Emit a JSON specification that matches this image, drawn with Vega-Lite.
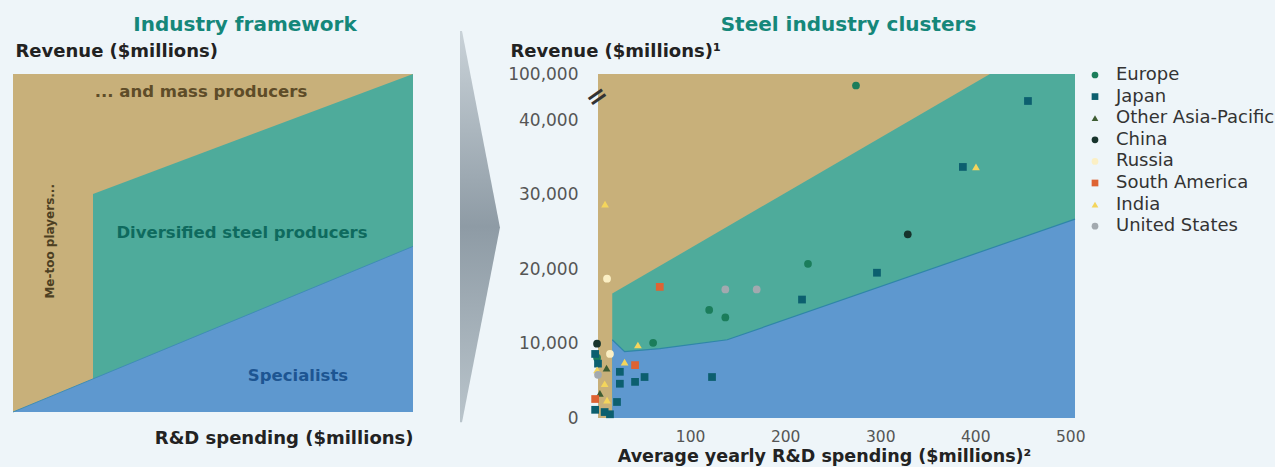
{
  "$schema": "https://vega.github.io/schema/vega-lite/v6.json",
  "background": "#eef5f9",
  "padding": {"left": 11, "top": 15, "right": 0, "bottom": 2},
  "bounds": "flush",
  "spacing": 0,
  "config": {"font": "DejaVu Sans", "view": {"stroke": null}},
  "hconcat": [
    {
      "width": 400,
      "height": 338,
      "title": {"text": "Industry framework", "anchor": "middle", "frame": "group", "dx": 32, "offset": 7, "fontSize": 20, "fontWeight": "bold", "color": "#15877a", "font": "DejaVu Sans"},
      "view": {"fill": "#c8b07a", "stroke": null},
      "layer": [
        {
          "data": {"values": [{"x": 20, "y": 64.5}, {"x": 100, "y": 100}]},
          "mark": {"type": "area", "color": "#4eab9b", "opacity": 1},
          "encoding": {
            "x": {"field": "x", "type": "quantitative", "scale": {"domain": [0, 100], "nice": false, "zero": false},
              "axis": {"title": "R&D spending ($millions)", "titleAnchor": "end", "labels": false, "ticks": false, "domain": false, "grid": false, "titleFontSize": 18, "titleFont": "DejaVu Sans", "titleFontWeight": "bold", "titleColor": "#222", "titlePadding": 17}},
            "y": {"field": "y", "type": "quantitative", "scale": {"domain": [0, 100], "nice": false, "zero": false},
              "axis": {"title": "Revenue ($millions)", "titleAngle": 0, "titleAlign": "left", "titleBaseline": "middle", "titleX": 2, "titleY": -23, "labels": false, "ticks": false, "domain": false, "grid": false, "titleFontSize": 18, "titleFont": "DejaVu Sans", "titleFontWeight": "bold", "titleColor": "#222"}}
          }
        },
        {
          "data": {"values": [{"x": 0, "y": 0}, {"x": 100, "y": 49}]},
          "mark": {"type": "area", "color": "#5e98cf", "opacity": 1, "line": {"color": "#3f8db5", "strokeWidth": 1}},
          "encoding": {"x": {"field": "x", "type": "quantitative"}, "y": {"field": "y", "type": "quantitative"}}
        },
        {
          "data": {"values": [{"x": 47, "y": 94.7, "t": "... and mass producers"}]},
          "mark": {"type": "text", "fontSize": 16.5, "color": "#5e4c28", "fontWeight": "bold"},
          "encoding": {"x": {"field": "x", "type": "quantitative"}, "y": {"field": "y", "type": "quantitative"}, "text": {"field": "t"}}
        },
        {
          "data": {"values": [{"x": 57.25, "y": 53, "t": "Diversified steel producers"}]},
          "mark": {"type": "text", "fontSize": 16.5, "color": "#0e6a5e", "fontWeight": "bold"},
          "encoding": {"x": {"field": "x", "type": "quantitative"}, "y": {"field": "y", "type": "quantitative"}, "text": {"field": "t"}}
        },
        {
          "data": {"values": [{"x": 71.25, "y": 10.6, "t": "Specialists"}]},
          "mark": {"type": "text", "fontSize": 16.5, "color": "#1d5592", "fontWeight": "bold"},
          "encoding": {"x": {"field": "x", "type": "quantitative"}, "y": {"field": "y", "type": "quantitative"}, "text": {"field": "t"}}
        },
        {
          "data": {"values": [{"x": 9.25, "y": 50.5, "t": "Me-too players..."}]},
          "mark": {"type": "text", "fontSize": 12, "color": "#4d3f22", "fontWeight": "bold", "angle": 270},
          "encoding": {"x": {"field": "x", "type": "quantitative"}, "y": {"field": "y", "type": "quantitative"}, "text": {"field": "t"}}
        }
      ]
    },
    {
      "width": 185,
      "height": 344,
      "data": {"values": [
        {"ay": 1.125, "ax": 0.254, "ax2": 0.265},
        {"ay": 0.554, "ax": 0.254, "ax2": 0.47},
        {"ay": -0.012, "ax": 0.254, "ax2": 0.265}
      ]},
      "mark": {"type": "area", "orient": "horizontal", "color": {"gradient": "linear", "x1": 0, "y1": 0, "x2": 0, "y2": 1, "stops": [{"offset": 0, "color": "#c9d2d8"}, {"offset": 0.5, "color": "#8e9ba5"}, {"offset": 1, "color": "#b9c4cb"}]}},
      "encoding": {
        "y": {"field": "ay", "type": "quantitative", "scale": {"domain": [0, 1], "nice": false, "zero": false}, "axis": null},
        "x": {"field": "ax", "type": "quantitative", "scale": {"domain": [0, 1], "nice": false, "zero": false}, "axis": null},
        "x2": {"field": "ax2"}
      }
    },
    {
      "width": 477,
      "height": 344,
      "title": {"text": "Steel industry clusters", "anchor": "middle", "frame": "group", "dx": 12, "offset": 7, "fontSize": 20, "fontWeight": "bold", "color": "#15877a", "font": "DejaVu Sans"},
      "view": {"fill": "#c8b07a", "stroke": null},
      "layer": [
        {
          "data": {"values": [{"rd": 18, "revenue": 16700}, {"rd": 415.5, "revenue": 100000}, {"rd": 505, "revenue": 100000}]},
          "mark": {"type": "area", "color": "#4eab9b", "opacity": 1},
          "encoding": {
            "x": {"field": "rd", "type": "quantitative", "scale": {"domain": [3, 505], "nice": false, "zero": false},
              "axis": {"title": "Average yearly R&D spending ($millions)²", "titleAnchor": "middle", "titleAlign": "center", "titleX": 226, "values": [100, 200, 300, 400, 500], "ticks": false, "domain": false, "grid": false, "labelFontSize": 15.5, "labelColor": "#555", "labelFont": "DejaVu Sans", "labelPadding": 11, "titleFontSize": 17.5, "titleFont": "DejaVu Sans", "titleFontWeight": "bold", "titleColor": "#222", "titlePadding": 3}},
            "y": {"field": "revenue", "type": "quantitative", "scale": {"domain": [0, 40000, 100000], "range": [344, 46, 0], "nice": false, "zero": false},
              "axis": {"title": "Revenue ($millions)¹", "values": [0, 10000, 20000, 30000, 40000, 100000], "labelExpr": "format(datum.value, ',')", "titleAngle": 0, "titleAlign": "left", "titleBaseline": "middle", "titleX": -88, "titleY": -23, "ticks": false, "domain": false, "grid": false, "labelFontSize": 17, "labelColor": "#555", "labelFont": "DejaVu Sans", "labelPadding": 20, "titleFontSize": 18, "titleFont": "DejaVu Sans", "titleFontWeight": "bold", "titleColor": "#222"}}
          }
        },
        {
          "data": {"values": [{"rd": 18, "revenue": 10500}, {"rd": 31, "revenue": 8900}, {"rd": 68, "revenue": 9300}, {"rd": 139, "revenue": 10500}, {"rd": 505, "revenue": 26700}]},
          "mark": {"type": "area", "color": "#5e98cf", "opacity": 1, "line": {"color": "#2f86a8", "strokeWidth": 1.2}},
          "encoding": {"x": {"field": "rd", "type": "quantitative"}, "y": {"field": "revenue", "type": "quantitative"}}
        },
        {
          "data": {"values": [{"rd": 2, "revenue": 70000, "t": "="}]},
          "mark": {"type": "text", "fontSize": 26, "color": "#333", "angle": -35, "fontWeight": "bold"},
          "encoding": {"x": {"field": "rd", "type": "quantitative"}, "y": {"field": "revenue", "type": "quantitative"}, "text": {"field": "t"}}
        },
        {
          "data": {"values": [
            {"region": "Europe", "rd": 274.5, "revenue": 85000},
            {"region": "Europe", "rd": 224, "revenue": 20700},
            {"region": "Europe", "rd": 120, "revenue": 14500},
            {"region": "Europe", "rd": 137, "revenue": 13500},
            {"region": "Europe", "rd": 61, "revenue": 10100},
            {"region": "Europe", "rd": 2, "revenue": 8100},
            {"region": "Japan", "rd": 455.5, "revenue": 64800},
            {"region": "Japan", "rd": 387, "revenue": 33700},
            {"region": "Japan", "rd": 296.6, "revenue": 19500},
            {"region": "Japan", "rd": 217.7, "revenue": 15900},
            {"region": "Japan", "rd": 123, "revenue": 5500},
            {"region": "Japan", "rd": 0, "revenue": 8600},
            {"region": "Japan", "rd": 3, "revenue": 7300},
            {"region": "Japan", "rd": 26, "revenue": 6200},
            {"region": "Japan", "rd": 26, "revenue": 4600},
            {"region": "Japan", "rd": 42, "revenue": 4850},
            {"region": "Japan", "rd": 52, "revenue": 5500},
            {"region": "Japan", "rd": 0, "revenue": 1100},
            {"region": "Japan", "rd": 10, "revenue": 800},
            {"region": "Japan", "rd": 23, "revenue": 2150},
            {"region": "Japan", "rd": 15.6, "revenue": 500},
            {"region": "Other Asia-Pacific", "rd": 5, "revenue": 3300},
            {"region": "Other Asia-Pacific", "rd": 12, "revenue": 6700},
            {"region": "China", "rd": 329, "revenue": 24650},
            {"region": "China", "rd": 2, "revenue": 9970},
            {"region": "Russia", "rd": 12.5, "revenue": 18700},
            {"region": "Russia", "rd": 15.6, "revenue": 8600},
            {"region": "South America", "rd": 68, "revenue": 17600},
            {"region": "South America", "rd": 42, "revenue": 7100},
            {"region": "South America", "rd": 0, "revenue": 2550},
            {"region": "India", "rd": 10.4, "revenue": 28700},
            {"region": "India", "rd": 400.8, "revenue": 33700},
            {"region": "India", "rd": 45, "revenue": 9800},
            {"region": "India", "rd": 31, "revenue": 7500},
            {"region": "India", "rd": 2, "revenue": 6450},
            {"region": "India", "rd": 10, "revenue": 4600},
            {"region": "India", "rd": 12.5, "revenue": 2400},
            {"region": "United States", "rd": 137, "revenue": 17250},
            {"region": "United States", "rd": 170, "revenue": 17250},
            {"region": "United States", "rd": 3, "revenue": 5800}
          ]},
          "mark": {"type": "point", "filled": true, "size": 60, "opacity": 1},
          "encoding": {
            "x": {"field": "rd", "type": "quantitative"},
            "y": {"field": "revenue", "type": "quantitative"},
            "color": {"field": "region", "type": "nominal",
              "scale": {"domain": ["Europe", "Japan", "Other Asia-Pacific", "China", "Russia", "South America", "India", "United States"],
                "range": ["#1b7d5b", "#0c5f6f", "#3e5c33", "#17332c", "#fbefc4", "#de6333", "#f4d55c", "#a2a9af"]},
              "legend": {"title": null, "orient": "none", "legendX": 1073, "legendY": -8, "labelFontSize": 18, "labelColor": "#333", "labelFont": "DejaVu Sans", "symbolSize": 45, "rowPadding": 3.6, "labelOffset": 12, "padding": 0}},
            "shape": {"field": "region", "type": "nominal",
              "scale": {"domain": ["Europe", "Japan", "Other Asia-Pacific", "China", "Russia", "South America", "India", "United States"],
                "range": ["circle", "square", "triangle-up", "circle", "circle", "square", "triangle-up", "circle"]},
              "legend": {"title": null, "orient": "none", "legendX": 1073, "legendY": -8, "labelFontSize": 18, "labelColor": "#333", "labelFont": "DejaVu Sans", "symbolSize": 45, "rowPadding": 3.6, "labelOffset": 12, "padding": 0}}
          }
        }
      ]
    }
  ]
}
